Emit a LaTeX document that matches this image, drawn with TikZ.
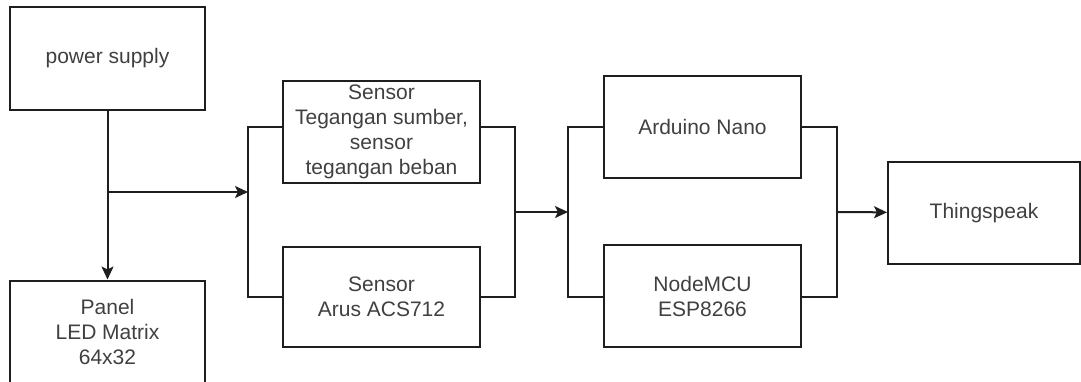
\documentclass[tikz,border=0pt]{standalone}
\usepackage{fontspec}
\setmainfont{Liberation Sans}
\usetikzlibrary{arrows.meta, calc}
\definecolor{tinta}{HTML}{1E1E1E}
\definecolor{teks}{HTML}{404040}
\begin{document}
\begin{tikzpicture}[x=1pt, y=-1pt, >={Stealth[length=13pt,width=12pt,inset=3pt]},
    kotak/.style={draw=tinta, line width=2pt, inner sep=0pt, align=center,
        text=teks, font=\fontsize{21}{25}\selectfont},
    garis/.style={draw=tinta, line width=2pt}]
    \useasboundingbox (0,0) rectangle (1081,381);

    % Blok-blok utama
    \node[kotak, minimum width=195pt, minimum height=103pt] (psu) at (107.5,58.5) {power supply};
    \node[kotak, minimum width=195pt, minimum height=103pt] (panel) at (107.5,332) {Panel\\LED Matrix\\64x32};
    \node[kotak, minimum width=197pt, minimum height=102pt] (tegangan) at (381.5,132) {Sensor\\Tegangan sumber,\\sensor\\tegangan beban};
    \node[kotak, minimum width=197pt, minimum height=100pt] (arus) at (381.5,297) {Sensor\\Arus ACS712};
    \node[kotak, minimum width=197pt, minimum height=102pt] (nano) at (702.5,127) {Arduino Nano};
    \node[kotak, minimum width=197pt, minimum height=102pt] (mcu) at (702.5,296) {NodeMCU\\ESP8266};
    \node[kotak, minimum width=192pt, minimum height=102pt] (thing) at (984,213) {Thingspeak};

    % Titik-titik bantu untuk percabangan
    \coordinate (cabang) at (107.5,192);
    \coordinate (ka1) at (248,127);
    \coordinate (kb1) at (248,297);
    \coordinate (ma1) at (248,192);
    \coordinate (ka2) at (515,127);
    \coordinate (kb2) at (515,297);
    \coordinate (ka3) at (568,127);
    \coordinate (kb3) at (568,297);
    \coordinate (ka4) at (837,127);
    \coordinate (kb4) at (837,297);

    % Jalur dari power supply
    \draw[garis, ->] (psu) -- (panel);
    \draw[garis, ->] (cabang) -- (ma1);

    % Kurung kiri dan kanan kelompok sensor
    \draw[garis] (tegangan.west |- ka1) -- (ka1) -- (kb1) -- (arus.west |- kb1);
    \draw[garis] (tegangan.east |- ka2) -- (ka2) -- (kb2) -- (arus.east |- kb2);
    \draw[garis, ->] ($(ka2)!0.5!(kb2)$) -- ($(ka3)!0.5!(kb3)$);

    % Kurung kiri dan kanan kelompok mikrokontroler
    \draw[garis] (nano.west |- ka3) -- (ka3) -- (kb3) -- (mcu.west |- kb3);
    \draw[garis] (nano.east |- ka4) -- (ka4) -- (kb4) -- (mcu.east |- kb4);
    \draw[garis, ->] ($(ka4)!0.5!(kb4)$) -- (thing);
\end{tikzpicture}
\end{document}
